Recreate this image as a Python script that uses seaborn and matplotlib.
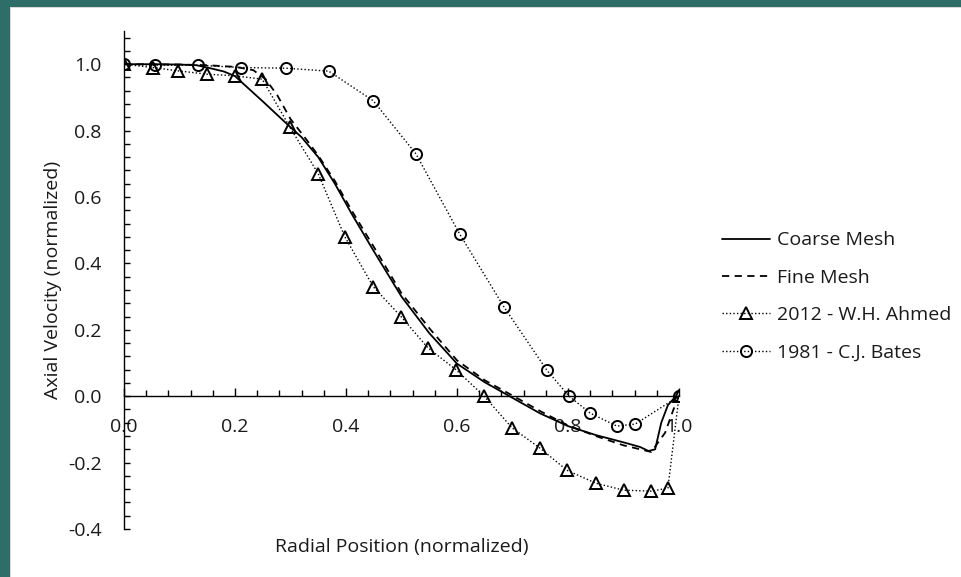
import numpy as np
import pandas as pd
import matplotlib
matplotlib.use("Agg")
import matplotlib.pyplot as plt
from matplotlib.ticker import MultipleLocator, FixedLocator
from matplotlib.patches import Rectangle
import seaborn as sns

# ---------------- data ----------------
coarse_x = [0.0, 0.05, 0.10, 0.13, 0.15, 0.18, 0.20, 0.25, 0.30, 0.32, 0.35, 0.38, 0.41,
            0.45, 0.50, 0.55, 0.60, 0.65, 0.70, 0.75, 0.80, 0.85, 0.90, 0.93, 0.945,
            0.957, 0.968, 0.98, 0.99, 1.0]
coarse_y = [1.0, 1.0, 0.999, 0.997, 0.99, 0.978, 0.964, 0.888, 0.81, 0.78, 0.72, 0.64, 0.55,
            0.437, 0.30, 0.19, 0.098, 0.042, -0.005, -0.052, -0.09, -0.117, -0.139, -0.153, -0.165,
            -0.16, -0.08, -0.027, -0.008, 0.0]

fine_x = [0.0, 0.10, 0.15, 0.20, 0.233, 0.255, 0.276, 0.30, 0.33, 0.35, 0.38, 0.41, 0.45,
          0.50, 0.55, 0.60, 0.65, 0.70, 0.75, 0.80, 0.85, 0.90, 0.93, 0.95, 0.975, 0.99, 1.0]
fine_y = [1.0, 0.999, 0.997, 0.992, 0.982, 0.955, 0.907, 0.835, 0.77, 0.725, 0.648, 0.56, 0.45,
          0.31, 0.205, 0.108, 0.048, 0.002, -0.045, -0.088, -0.12, -0.148, -0.16, -0.168, -0.11, -0.04, 0.0]

ahmed_x = [0.0, 0.052, 0.097, 0.15, 0.20, 0.249, 0.299, 0.35, 0.398, 0.449, 0.499, 0.548,
           0.598, 0.649, 0.699, 0.75, 0.798, 0.85, 0.90, 0.95, 0.98, 1.0]
ahmed_y = [1.0, 0.99, 0.98, 0.97, 0.965, 0.955, 0.81, 0.67, 0.48, 0.33, 0.24, 0.145,
           0.08, 0.0, -0.095, -0.157, -0.223, -0.262, -0.283, -0.286, -0.277, 0.0]

bates_x = [0.0, 0.056, 0.133, 0.211, 0.292, 0.369, 0.449, 0.526, 0.605, 0.685, 0.762,
           0.802, 0.84, 0.888, 0.921, 1.0]
bates_y = [1.0, 0.997, 0.997, 0.99, 0.988, 0.979, 0.89, 0.73, 0.488, 0.268, 0.078,
           0.0, -0.051, -0.09, -0.084, 0.0]

series_labels = ["Coarse Mesh", "Fine Mesh", "2012 - W.H. Ahmed", "1981 - C.J. Bates"]
x_label = "Radial Position (normalized)"
y_label = "Axial Velocity (normalized)"

# ---------------- style ----------------
sns.set_theme(style="white")
plt.rcParams["font.family"] = ["Open Sans", "DejaVu Sans"]
FS = 14
TXT = "#1a1a1a"

W, H = 961, 577
fig = plt.figure(figsize=(W / 100, H / 100), dpi=100)
fig.patch.set_facecolor("#2f6d69")

# background panel (white slide area)
bg = fig.add_axes([0, 0, 1, 1], zorder=-10)
bg.set_xlim(0, W)
bg.set_ylim(0, H)
bg.axis("off")
bg.add_patch(Rectangle((10, 0), W - 10, H - 7, facecolor="#d9d9d9", edgecolor="none"))
bg.add_patch(Rectangle((11, 0), W - 11, H - 8, facecolor="white", edgecolor="none"))

ax = fig.add_axes([124 / W, 48 / H, 555 / W, 498 / H], zorder=1)
ax.set_facecolor("none")

lw = 1.3
dot = (0, (1.0, 1.6))
sns.lineplot(x=coarse_x, y=coarse_y, ax=ax, color="black", lw=lw, sort=False,
             estimator=None, label=series_labels[0], legend=False)
sns.lineplot(x=fine_x, y=fine_y, ax=ax, color="black", lw=lw, sort=False,
             estimator=None, label=series_labels[1], legend=False, linestyle=(0, (4.0, 3.0)))
sns.lineplot(x=ahmed_x, y=ahmed_y, ax=ax, color="black", lw=1.0, sort=False,
             estimator=None, label=series_labels[2], legend=False, linestyle=dot,
             marker="^", markersize=8.5, markerfacecolor="none", markeredgecolor="black",
             markeredgewidth=1.4)
sns.lineplot(x=bates_x, y=bates_y, ax=ax, color="black", lw=1.0, sort=False,
             estimator=None, label=series_labels[3], legend=False, linestyle=dot,
             marker="o", markersize=8.0, markerfacecolor="none", markeredgecolor="black",
             markeredgewidth=1.4)

ax.set_xlim(0, 1.0)
ax.set_ylim(-0.4, 1.1)

for s in ["top", "right"]:
    ax.spines[s].set_visible(False)
ax.spines["bottom"].set_position(("data", 0))
ax.spines["left"].set_position(("data", 0))
for s in ["bottom", "left"]:
    ax.spines[s].set_color("black")
    ax.spines[s].set_linewidth(1.0)

ax.xaxis.set_major_locator(FixedLocator([0.0, 0.2, 0.4, 0.6, 0.8, 1.0]))
ax.xaxis.set_minor_locator(MultipleLocator(0.04))
ax.yaxis.set_major_locator(FixedLocator([-0.4, -0.2, 0.0, 0.2, 0.4, 0.6, 0.8, 1.0]))
ax.yaxis.set_minor_locator(MultipleLocator(0.04))
ax.xaxis.set_major_formatter(matplotlib.ticker.FormatStrFormatter("%.1f"))
ax.yaxis.set_major_formatter(matplotlib.ticker.FormatStrFormatter("%.1f"))

ax.tick_params(axis="x", which="major", direction="in", length=6, width=1, pad=15.5,
               labelsize=FS, labelcolor=TXT, color="black", bottom=True)
ax.tick_params(axis="x", which="minor", direction="in", length=4, width=1, color="black", bottom=True)
ax.tick_params(axis="y", which="major", direction="in", length=4.5, width=1, pad=16,
               labelsize=FS, labelcolor=TXT, color="black", left=True)
ax.tick_params(axis="y", which="minor", direction="in", length=4.5, width=1, color="black", left=True)

ax.set_xlabel(x_label, fontsize=FS, color=TXT)
ax.set_ylabel(y_label, fontsize=FS, color=TXT)
ax.xaxis.set_label_coords(0.5, -0.018)
ax.yaxis.set_label_coords(-0.112, 0.5)

handles = ax.get_lines()[:4]
leg = ax.legend(handles=handles, labels=series_labels, loc="center left",
                bbox_to_anchor=(722 / W, 1 - 296.5 / H), bbox_transform=fig.transFigure,
                frameon=False, fontsize=FS, handlelength=2.45, handletextpad=0.38,
                labelspacing=1.0, borderpad=0, borderaxespad=0, numpoints=1)
for t in leg.get_texts():
    t.set_color(TXT)

fig.savefig("out.png", dpi=100, facecolor=fig.get_facecolor())
